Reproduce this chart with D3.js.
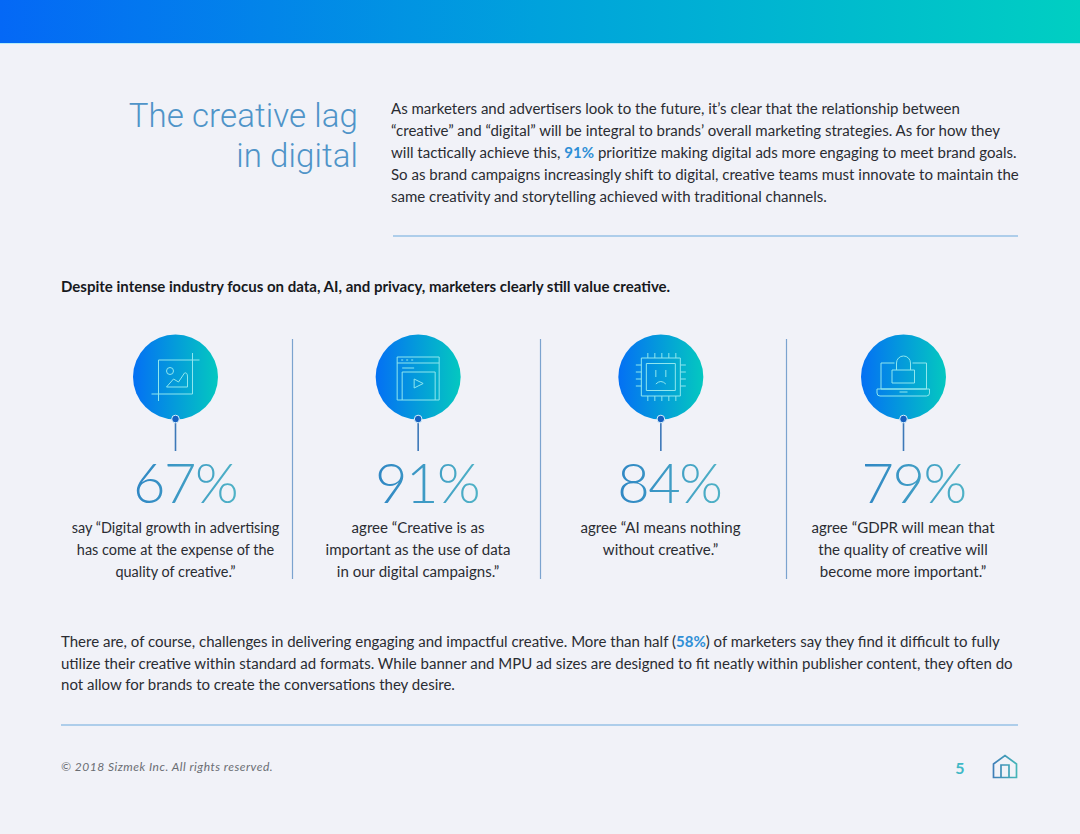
<!DOCTYPE html>
<html>
<head>
<meta charset="utf-8">
<script src="https://cdn.jsdelivr.net/npm/d3@7"></script>
<style>
html, body { margin: 0; padding: 0; background: #f1f2f8; }
svg { display: block; }
text { font-family: Lato, "Open Sans", sans-serif; }
</style>
</head>
<body>
<div id="page"></div>
<script>
// values
const percents = [67, 91, 84, 79];
const quoteLines = [
    ["say \u201CDigital growth in advertising", "has come at the expense of the", "quality of creative.\u201D"],
    ["agree \u201CCreative is as", "important as the use of data", "in our digital campaigns.\u201D"],
    ["agree \u201CAI means nothing", "without creative.\u201D"],
    ["agree \u201CGDPR will mean that", "the quality of creative will", "become more important.\u201D"]
];
const titleLines = ["The creative lag", "in digital"];
const introLines = [
    ["As marketers and advertisers look to the future, it\u2019s clear that the relationship between"],
    ["\u201Ccreative\u201D and \u201Cdigital\u201D will be integral to brands\u2019 overall marketing strategies. As for how they"],
    ["will tactically achieve this, ", "*91%", " prioritize making digital ads more engaging to meet brand goals."],
    ["So as brand campaigns increasingly shift to digital, creative teams must innovate to maintain the"],
    ["same creativity and storytelling achieved with traditional channels."]
];
const headline = "Despite intense industry focus on data, AI, and privacy, marketers clearly still value creative.";
const outroLines = [
    ["There are, of course, challenges in delivering engaging and impactful creative. More than half (", "*58%", ") of marketers say they find it difficult to fully"],
    ["utilize their creative within standard ad formats. While banner and MPU ad sizes are designed to fit neatly within publisher content, they often do"],
    ["not allow for brands to create the conversations they desire."]
];
const footer = "\u00A9 2018 Sizmek Inc. All rights reserved.";
const pageNumber = "5";

const width = 1080, height = 834;
const svg = d3.select("#page").append("svg").attr("width", width).attr("height", height);
const defs = svg.append("defs");

function addGradient(id, stops) {
    const g = defs.append("linearGradient").attr("id", id);
    stops.forEach(s => g.append("stop").attr("offset", s[0]).attr("stop-color", s[1]));
}
addGradient("bandGrad", [[0, "#0468f6"], [0.5, "#00a2dc"], [1, "#00cfc2"]]);
addGradient("circleGrad", [[0, "#0470f4"], [1, "#04c8c0"]]);
addGradient("pctGrad", [[0, "#2f86c4"], [1, "#4fb2c6"]]);
addGradient("homeGrad", [[0, "#3f7fb8"], [1, "#45b5b8"]]);

svg.append("rect").attr("width", width).attr("height", height).attr("fill", "#f1f2f8");
svg.append("rect").attr("width", width).attr("height", 43).attr("fill", "url(#bandGrad)");
svg.append("rect").attr("y", 43).attr("width", width).attr("height", 1).attr("fill", "#b4ecf8");

// title
svg.append("g").selectAll("text").data(titleLines).join("text")
    .attr("x", 358)
    .attr("y", (d, i) => 127 + i * 39.5)
    .attr("text-anchor", "end")
    .style("font-family", "Roboto, Lato, sans-serif")
    .attr("font-size", 33)
    .attr("font-weight", 300)
    .attr("letter-spacing", 0.1)
    .attr("fill", "#4f94c8")
    .text(d => d);

// paragraph with highlighted bits (segments that start with * are bold blue)
function paragraph(lines, x, y0, step, size) {
    lines.forEach((segs, i) => {
        const t = svg.append("text").attr("x", x).attr("y", y0 + i * step)
            .attr("font-size", size).attr("fill", "#2a2c32");
        segs.forEach(s => {
            const hot = s[0] === "*";
            t.append("tspan")
                .attr("font-weight", hot ? 700 : 400)
                .attr("fill", hot ? "#2f8fd6" : null)
                .text(hot ? s.slice(1) : s);
        });
    });
}
paragraph(introLines, 391, 114, 21.9, 15.03);
paragraph(outroLines, 61, 647, 21.6, 15.03);

svg.append("text").attr("x", 61).attr("y", 292)
    .attr("font-size", 15.03).attr("font-weight", 700).attr("fill", "#17191d")
    .text(headline);

// rules
const rules = [[393, 1018, 236], [61, 1018, 725]];
svg.append("g").selectAll("line").data(rules).join("line")
    .attr("x1", d => d[0]).attr("x2", d => d[1])
    .attr("y1", d => d[2]).attr("y2", d => d[2])
    .attr("stroke", "#6aa9dd").attr("stroke-width", 1);

// columns
const x = d3.scalePoint().domain(d3.range(percents.length)).range([175.5, 903.5]);
const col = svg.append("g").selectAll("g").data(percents).join("g")
    .attr("transform", (d, i) => `translate(${x(i)},0)`);

col.append("circle").attr("cy", 377).attr("r", 42.5).attr("fill", "url(#circleGrad)");
col.append("line").attr("y1", 420).attr("y2", 451).attr("stroke", "#3d78b8").attr("stroke-width", 1.6);
col.append("circle").attr("cy", 419).attr("r", 3.8).attr("fill", "#1560c0").attr("stroke", "#d8f0fb").attr("stroke-width", 1);

// percent numbers are a bit right of the circle centres
const pctOffset = [9.5, 9, 8.5, 10];
col.append("text")
    .attr("x", (d, i) => pctOffset[i])
    .attr("y", 502.5)
    .attr("text-anchor", "middle")
    .attr("font-size", 56)
    .attr("font-weight", 300)
    .attr("letter-spacing", -1.5)
    .attr("fill", "url(#pctGrad)")
    .text(d => d + "%");

const quoteCentre = [175.5, 418, 660.5, 903];
const quoteSize = [14.45, 15.05, 15.05, 15.05];
svg.append("g").selectAll("g").data(quoteLines).join("g").each(function(lines, i) {
    d3.select(this).selectAll("text").data(lines).join("text")
        .attr("x", quoteCentre[i])
        .attr("y", (d, j) => 533 + j * 21.8)
        .attr("text-anchor", "middle")
        .attr("font-size", quoteSize[i])
        .attr("fill", "#2a2c32")
        .text(d => d);
});

// column dividers
const dividers = [292.5, 540.5, 786.5];
svg.append("g").selectAll("line").data(dividers).join("line")
    .attr("x1", d => d).attr("x2", d => d)
    .attr("y1", 339).attr("y2", 579)
    .attr("stroke", "#7ba3cf").attr("stroke-width", 1.2);

// icons, drawn around the circle centre
const icon = (i) => col.filter((d, j) => j === i).append("g")
    .attr("transform", "translate(0,377)")
    .attr("fill", "none").attr("stroke", "#8fe6ee").attr("stroke-width", 1);

const i0 = icon(0);
i0.append("path").attr("d", "M-17,-17H17V17H-17ZM-24,17H-17V24M17,-17H24M17,-17V-24");
i0.append("circle").attr("cx", -5.5).attr("cy", -6).attr("r", 3.5);
i0.append("path").attr("d", "M-9,10L-2,2L3,5L9,-4Q12,-5 12,0V10Z");

const i1 = icon(1);
i1.append("path").attr("d", "M-21,-20H21V23H-21ZM-21,-14H21M-16,-9H-4M-16,-5H17V23M-16,-5V23");
i1.append("path").attr("d", "M-4,2L5,6.5L-4,11Z");
i1.append("path").attr("d", "M-17,-17H-15M-12,-17H-10M-7,-17H-5");

const i2 = icon(2);
i2.append("path").attr("d", "M-19.5,-19H19.5V19H-19.5Z");
i2.append("path").attr("d", "M-14.5,-13.5H14.5V13.5H-14.5Z");
i2.append("path").attr("d", "M-5,-7V0M5,-7V0M-5,7Q0,2 5,7");
i2.append("path").attr("d", "M-13,-24V-19M-6,-24V-19M1,-24V-19M8,-24V-19M15,-24V-19M-13,19V24M-6,19V24M1,19V24M8,19V24M15,19V24M-25,-12H-19.5M-25,-5H-19.5M-25,2H-19.5M-25,9H-19.5M19.5,-12H25M19.5,-5H25M19.5,2H25M19.5,9H25");

const i3 = icon(3);
i3.append("path").attr("d", "M-9,-14H-22.5V12H23V-14H9");
i3.append("path").attr("d", "M-26.5,12H26V16Q26,19 23,19H-23.5Q-26.5,19 -26.5,16ZM-4,15H4");
i3.append("path").attr("d", "M-11.5,-7H11V6H-11.5ZM-7,-7V-14A7,7 0 0 1 7,-14V-7");

// footer
svg.append("text").attr("x", 61).attr("y", 771)
    .attr("font-size", 12).attr("font-style", "italic").attr("letter-spacing", 0.5).attr("fill", "#6a6d73")
    .text(footer);
svg.append("text").attr("x", 960).attr("y", 774).attr("text-anchor", "middle")
    .attr("font-size", 16).attr("font-weight", 700).attr("fill", "#3fb8c6")
    .text(pageNumber);
svg.append("path")
    .attr("transform", "translate(1005,767)")
    .attr("d", "M-11.5,10.5V-3L0,-11.5L11.5,-3V10.5ZM-4,10.5V-2H4V10.5")
    .attr("fill", "none").attr("stroke", "url(#homeGrad)").attr("stroke-width", 1.7);
</script>
</body>
</html>
